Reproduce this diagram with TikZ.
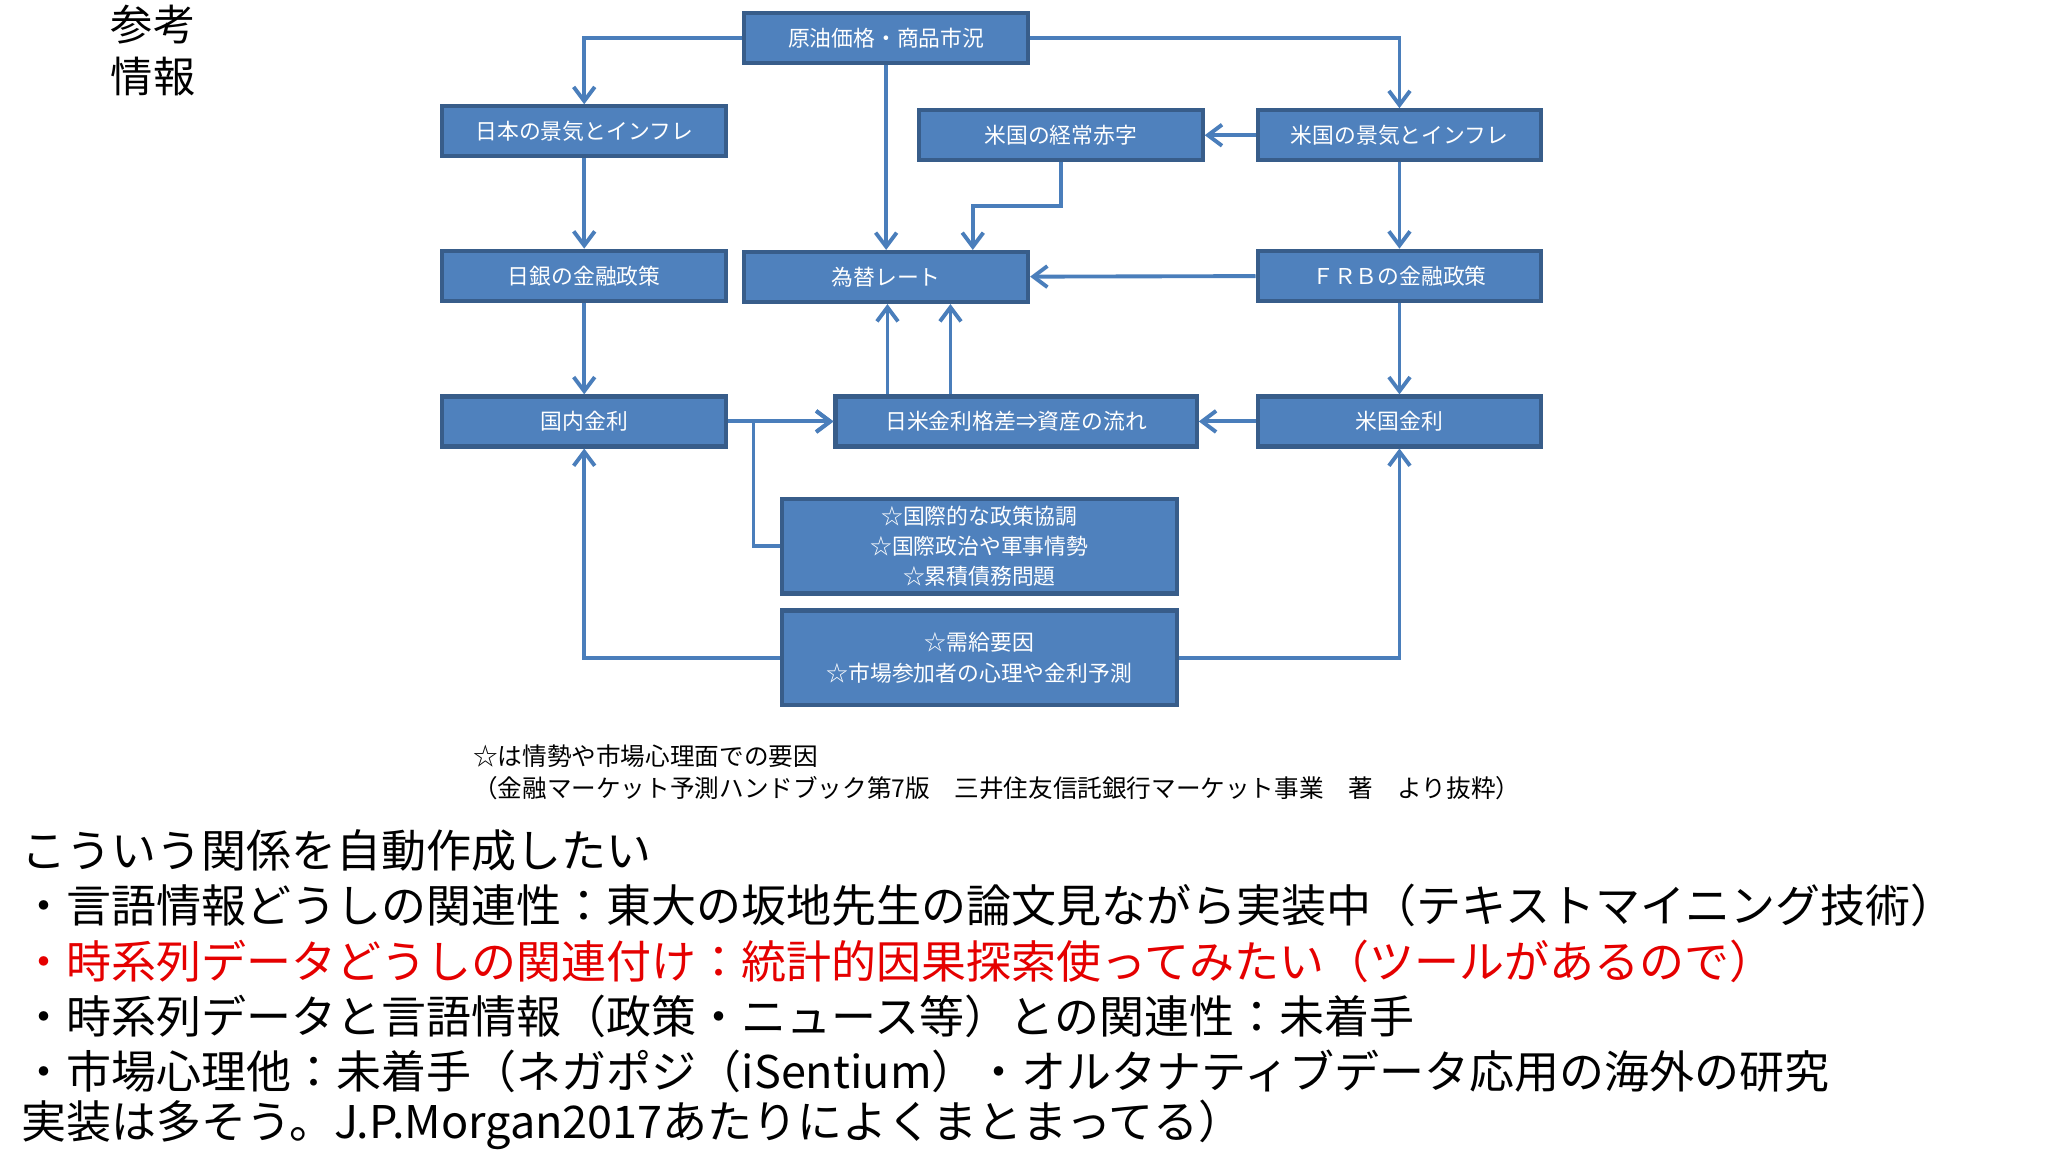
\documentclass[tikz,border=0pt]{standalone}
\usepackage{fontspec}
\setmainfont{Noto Sans CJK JP}
\usetikzlibrary{arrows.meta}
\definecolor{boxfill}{HTML}{4F81BD}
\definecolor{boxline}{HTML}{385D8A}
\definecolor{arr}{HTML}{4A7EBB}
\tikzset{
 bx/.style={draw=boxline,line width=1.2pt,fill=boxfill,text=white,font=\fontsize{6.2}{8}\selectfont,inner sep=0pt,minimum width=2.836cm,minimum height=0.499cm,align=center},
 wide/.style={minimum width=3.61cm},
 star/.style={minimum width=3.952cm,minimum height=0.945cm,font=\fontsize{6.2}{8.6}\selectfont},
 ar/.style={draw=arr,line width=1.1pt,-{Straight Barb[length=4pt,width=6pt]}},
 ln/.style={draw=arr,line width=1.1pt},
 tx/.style={anchor=west,inner sep=0pt},
 big/.style={tx,font=\fontsize{12.8}{15}\selectfont},
}
\begin{document}
\begin{tikzpicture}[x=0.013128cm,y=-0.013128cm]
\fill[white] (0,0) rectangle (1560,877.5);
\node[tx,font=\fontsize{12}{15}\selectfont,align=left,anchor=north west] (title) at (84,3) {参考\\情報};

\node[bx] (oil) at (675,29) {原油価格・商品市況};
\node[bx] (jp) at (445,100) {日本の景気とインフレ};
\node[bx] (ca) at (808,103) {米国の経常赤字};
\node[bx] (us) at (1066,103) {米国の景気とインフレ};
\node[bx] (boj) at (445,210) {日銀の金融政策};
\node[bx] (fx) at (675,211) {為替レート};
\node[bx] (frb) at (1066,210) {ＦＲＢの金融政策};
\node[bx] (jr) at (445,321) {国内金利};
\node[bx,wide] (diff) at (774,321) {日米金利格差⇒資産の流れ};
\node[bx] (ur) at (1066,321) {米国金利};
\node[bx,star] (s1) at (746,416) {☆国際的な政策協調\\☆国際政治や軍事情勢\\☆累積債務問題};
\node[bx,star] (s2) at (746,501) {☆需給要因\\☆市場参加者の心理や金利予測};

\draw[ar] (oil.west) -| (jp.north);
\draw[ar] (oil.east) -| (us.north);
\draw[ar] (oil.south) -- (fx.north);
\draw[ar] (jp) -- (boj);
\draw[ar] (boj) -- (jr);
\draw[ar] (us) -- (ca);
\coordinate (k1) at (808,157);
\coordinate (k2) at (741,157);
\draw[ar] (ca.south) -- (k1) -- (k2) -- (k2 |- fx.north);
\draw[ar] (us) -- (frb);
\draw[ar] (frb) -- (ur);
\draw[ar] (frb) -- (fx);
\draw[ar] (jr) -- (diff);
\draw[ar] (ur) -- (diff);
\draw[ar] (diff.north -| 676,0) -- (fx.south -| 676,0);
\draw[ar] (diff.north -| 724,0) -- (fx.south -| 724,0);
\coordinate (k3) at (574,416);
\draw[ar] (s1.west) -- (k3) -- (k3 |- diff.west) -- (diff.west);
\draw[ar] (s2.west) -| (jr.south);
\draw[ar] (s2.east) -| (ur.south);

\node[tx,font=\fontsize{7}{9}\selectfont] (n1) at (360,576) {☆は情勢や市場心理面での要因};
\node[tx,font=\fontsize{7}{9}\selectfont] (n2) at (360,600) {（金融マーケット予測ハンドブック第7版　三井住友信託銀行マーケット事業　著　より抜粋）};

\node[big] (l1) at (16,648) {こういう関係を自動作成したい};
\node[big] (l2) at (16,690) {・言語情報どうしの関連性：東大の坂地先生の論文見ながら実装中（テキストマイニング技術）};
\node[big,text=red!90!black] (l3) at (16,732) {・時系列データどうしの関連付け：統計的因果探索使ってみたい（ツールがあるので）};
\node[big] (l4) at (16,774) {・時系列データと言語情報（政策・ニュース等）との関連性：未着手};
\node[big] (l5) at (16,816) {・市場心理他：未着手（ネガポジ（iSentium）・オルタナティブデータ応用の海外の研究};
\node[big] (l6) at (16,857) {実装は多そう。J.P.Morgan2017あたりによくまとまってる）};
\end{tikzpicture}
\end{document}
